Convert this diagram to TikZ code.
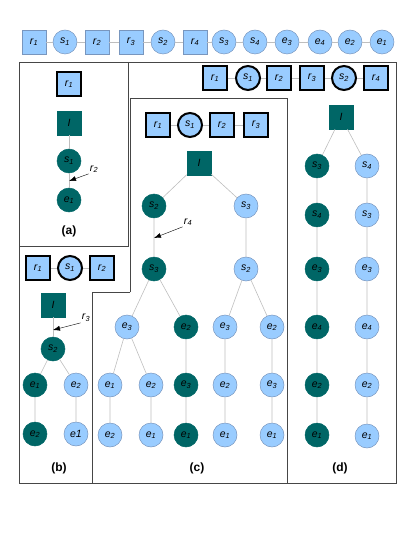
\documentclass[tikz,border=0pt]{standalone}
\usepackage{fontspec}
\setmainfont{Liberation Sans}
\usetikzlibrary{arrows.meta}
\definecolor{lightnode}{RGB}{153,204,255}
\definecolor{darknode}{RGB}{0,102,102}
\definecolor{nodeedge}{RGB}{120,150,190}
\definecolor{linkgray}{RGB}{190,190,190}
\definecolor{framegray}{RGB}{70,70,70}
\newcommand{\nodelab}[2]{\textit{#1}\textsubscript{\textit{#2}}}
\tikzset{
  sq/.style={rectangle, minimum size=24pt, inner sep=0pt, fill=lightnode, draw=nodeedge, line width=0.5pt, font=\fontsize{10.5}{12}\selectfont},
  cir/.style={circle, minimum size=24pt, inner sep=0pt, fill=lightnode, draw=nodeedge, line width=0.5pt, font=\fontsize{10.5}{12}\selectfont},
  dk/.style={fill=darknode, draw=darknode},
  thk/.style={draw=black, line width=2pt},
  link/.style={draw=linkgray, line width=0.6pt},
  frame/.style={draw=framegray, line width=0.7pt},
  panellab/.style={font=\fontsize{12}{14}\selectfont\bfseries},
  arrlab/.style={inner sep=1pt, font=\fontsize{10.5}{12}\selectfont},
  pointer/.style={-{Latex[length=7pt,width=5pt]}, line width=0.4pt}
}
\begin{document}
\begin{tikzpicture}[x=1pt, y=-1pt]
	\useasboundingbox (0,0) rectangle (415,537);
	
	% the whole sequence on top
	\node[sq] (t1) at (34,42) {\nodelab{r}{1}};
	\node[cir] (t2) at (65,42) {\nodelab{s}{1}};
	\node[sq] (t3) at (97,42) {\nodelab{r}{2}};
	\node[sq] (t4) at (131,42) {\nodelab{r}{3}};
	\node[cir] (t5) at (163,42) {\nodelab{s}{2}};
	\node[sq] (t6) at (195,42) {\nodelab{r}{4}};
	\node[cir] (t7) at (224,42) {\nodelab{s}{3}};
	\node[cir] (t8) at (255,42) {\nodelab{s}{4}};
	\node[cir] (t9) at (287,42) {\nodelab{e}{3}};
	\node[cir] (t10) at (320,42) {\nodelab{e}{4}};
	\node[cir] (t11) at (350,42) {\nodelab{e}{2}};
	\node[cir] (t12) at (382,42) {\nodelab{e}{1}};
	\draw[link] (t1) -- (t2) -- (t3) -- (t4) -- (t5) -- (t6) -- (t7) -- (t8) -- (t9) -- (t10) -- (t11) -- (t12);
	
	% panel frames
	\draw[frame] (19,62) rectangle (396,483);
	\draw[frame] (128,62) -- (128,246) -- (19,246);
	\draw[frame] (130,292) -- (130,98) -- (287,98) -- (287,483);
	\draw[frame] (130,292) -- (92,292) -- (92,483);
	
	% (a)
	\node[sq, thk] (a-r1) at (69,84) {\nodelab{r}{1}};
	\node[sq, dk] (a-I) at (69,123) {\textit{I}};
	\node[cir, dk] (a-s1) at (69,161) {\nodelab{s}{1}};
	\node[cir, dk] (a-e1) at (69,200) {\nodelab{e}{1}};
	\draw[link] (a-I) -- (a-s1) -- (a-e1);
	\node[arrlab] (a-r2) at (94,169) {\nodelab{r}{2}};
	\coordinate (a-tip) at (69,181);
	\draw[pointer] (a-r2.south west) -- (a-tip);
	\node[panellab] (a-lab) at (69,231) {(a)};
	
	% (b)
	\node[sq, thk] (b-r1) at (38,268) {\nodelab{r}{1}};
	\node[cir, thk] (b-s1) at (70,268) {\nodelab{s}{1}};
	\node[sq, thk] (b-r2) at (102,268) {\nodelab{r}{2}};
	\draw[link] (b-r1) -- (b-s1) -- (b-r2);
	\node[sq, dk] (b-I) at (53,305) {\textit{I}};
	\node[cir, dk] (b-s2) at (53,349) {\nodelab{s}{2}};
	\node[cir, dk] (b-e1) at (35,385) {\nodelab{e}{1}};
	\node[cir] (b-e2) at (76,385) {\nodelab{e}{2}};
	\node[cir, dk] (b-e2b) at (35,434) {\nodelab{e}{2}};
	\node[cir] (b-e1b) at (76,434) {\textit{e1}};
	\draw[link] (b-I) -- (b-s2);
	\draw[link] (b-s2) -- (b-e1) -- (b-e2b);
	\draw[link] (b-s2) -- (b-e2) -- (b-e1b);
	\node[arrlab] (b-r3) at (86,318) {\nodelab{r}{3}};
	\coordinate (b-tip) at (53,330);
	\draw[pointer] (b-r3.south west) -- (b-tip);
	\node[panellab] (b-lab) at (59,468) {(b)};
	
	% (c)
	\node[sq, thk] (c-r1) at (158,125) {\nodelab{r}{1}};
	\node[cir, thk] (c-s1) at (190,125) {\nodelab{s}{1}};
	\node[sq, thk] (c-r2) at (222,125) {\nodelab{r}{2}};
	\node[sq, thk] (c-r3) at (256,125) {\nodelab{r}{3}};
	\draw[link] (c-r1) -- (c-s1) -- (c-r2) -- (c-r3);
	\node[sq, dk] (c-I) at (199,163) {\textit{I}};
	\node[cir, dk] (c-s2) at (154,206) {\nodelab{s}{2}};
	\node[cir] (c-s3) at (246,206) {\nodelab{s}{3}};
	\node[cir, dk] (c-s3b) at (154,269) {\nodelab{s}{3}};
	\node[cir] (c-s2b) at (246,269) {\nodelab{s}{2}};
	\node[cir] (c-e3) at (127,327) {\nodelab{e}{3}};
	\node[cir, dk] (c-e2) at (186,327) {\nodelab{e}{2}};
	\node[cir] (c-e3r) at (225,327) {\nodelab{e}{3}};
	\node[cir] (c-e2r) at (272,327) {\nodelab{e}{2}};
	\node[cir] (c-e1) at (110,385) {\nodelab{e}{1}};
	\node[cir] (c-e2b) at (151,385) {\nodelab{e}{2}};
	\node[cir, dk] (c-e3b) at (186,385) {\nodelab{e}{3}};
	\node[cir] (c-e2c) at (225,385) {\nodelab{e}{2}};
	\node[cir] (c-e3c) at (272,385) {\nodelab{e}{3}};
	\node[cir] (c-e2d) at (110,435) {\nodelab{e}{2}};
	\node[cir] (c-e1b) at (151,435) {\nodelab{e}{1}};
	\node[cir, dk] (c-e1c) at (186,435) {\nodelab{e}{1}};
	\node[cir] (c-e1d) at (225,435) {\nodelab{e}{1}};
	\node[cir] (c-e1e) at (272,435) {\nodelab{e}{1}};
	\draw[link] (c-I) -- (c-s2) -- (c-s3b);
	\draw[link] (c-I) -- (c-s3) -- (c-s2b);
	\draw[link] (c-s3b) -- (c-e3);
	\draw[link] (c-s3b) -- (c-e2) -- (c-e3b) -- (c-e1c);
	\draw[link] (c-s2b) -- (c-e3r) -- (c-e2c) -- (c-e1d);
	\draw[link] (c-s2b) -- (c-e2r) -- (c-e3c) -- (c-e1e);
	\draw[link] (c-e3) -- (c-e1) -- (c-e2d);
	\draw[link] (c-e3) -- (c-e2b) -- (c-e1b);
	\node[arrlab] (c-r4) at (188,222) {\nodelab{r}{4}};
	\coordinate (c-tip) at (154,238);
	\draw[pointer] (c-r4.south west) -- (c-tip);
	\node[panellab] (c-lab) at (197,468) {(c)};
	
	% (d)
	\node[sq, thk] (d-r1) at (215,78) {\nodelab{r}{1}};
	\node[cir, thk] (d-s1) at (248,78) {\nodelab{s}{1}};
	\node[sq, thk] (d-r2) at (279,78) {\nodelab{r}{2}};
	\node[sq, thk] (d-r3) at (312,78) {\nodelab{r}{3}};
	\node[cir, thk] (d-s2) at (344,78) {\nodelab{s}{2}};
	\node[sq, thk] (d-r4) at (376,78) {\nodelab{r}{4}};
	\draw[link] (d-r1) -- (d-s1) -- (d-r2) -- (d-r3) -- (d-s2) -- (d-r4);
	\node[sq, dk] (d-I) at (341,117) {\textit{I}};
	\node[cir, dk] (d-s3) at (317,166) {\nodelab{s}{3}};
	\node[cir, dk] (d-s4) at (317,215) {\nodelab{s}{4}};
	\node[cir, dk] (d-e3) at (317,269) {\nodelab{e}{3}};
	\node[cir, dk] (d-e4) at (317,327) {\nodelab{e}{4}};
	\node[cir, dk] (d-e2) at (317,385) {\nodelab{e}{2}};
	\node[cir, dk] (d-e1) at (317,435) {\nodelab{e}{1}};
	\node[cir] (d-s4r) at (367,166) {\nodelab{s}{4}};
	\node[cir] (d-s3r) at (367,215) {\nodelab{s}{3}};
	\node[cir] (d-e3r) at (367,269) {\nodelab{e}{3}};
	\node[cir] (d-e4r) at (367,327) {\nodelab{e}{4}};
	\node[cir] (d-e2r) at (367,385) {\nodelab{e}{2}};
	\node[cir] (d-e1r) at (367,436) {\nodelab{e}{1}};
	\draw[link] (d-I) -- (d-s3) -- (d-s4) -- (d-e3) -- (d-e4) -- (d-e2) -- (d-e1);
	\draw[link] (d-I) -- (d-s4r) -- (d-s3r) -- (d-e3r) -- (d-e4r) -- (d-e2r) -- (d-e1r);
	\node[panellab] (d-lab) at (340,468) {(d)};
\end{tikzpicture}
\end{document}
